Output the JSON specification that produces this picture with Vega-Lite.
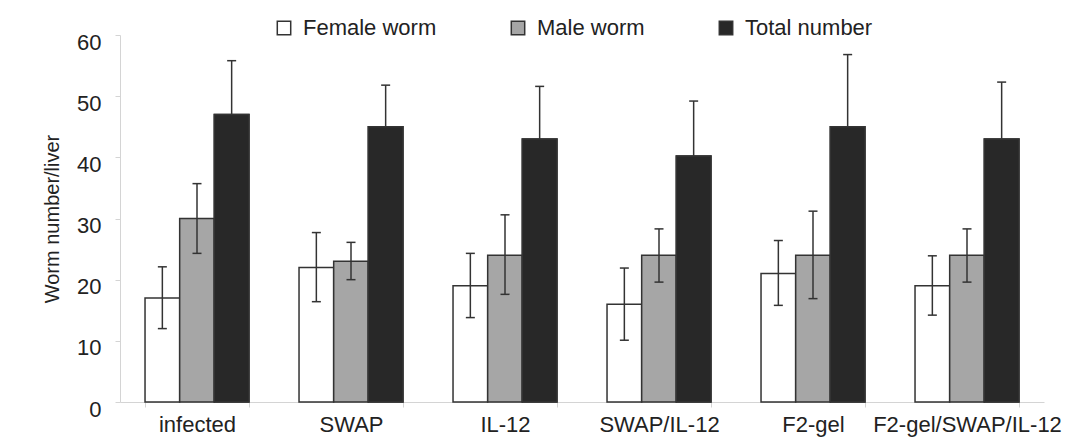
{
  "$schema": "https://vega.github.io/schema/vega-lite/v6.json",
  "width": 924,
  "height": 367,
  "autosize": {"type": "none"},
  "padding": {"left": 120, "top": 35, "right": 42, "bottom": 42},
  "background": "#ffffff",
  "config": {
    "view": {"stroke": null},
    "font": "Liberation Sans",
    "axis": {"grid": false, "labelFont": "Liberation Sans", "titleFont": "Liberation Sans", "labelColor": "#222222", "titleColor": "#222222", "domainColor": "#d4d4d4", "tickColor": "#d4d4d4"}
  },
  "data": {
    "values": [
      {"group": "infected", "series": "Female worm", "value": 17, "lo": 12.0, "hi": 22.1},
      {"group": "infected", "series": "Male worm", "value": 30, "lo": 24.3, "hi": 35.7},
      {"group": "infected", "series": "Total number", "value": 47, "lo": 38.4, "hi": 55.8},
      {"group": "SWAP", "series": "Female worm", "value": 22, "lo": 16.4, "hi": 27.7},
      {"group": "SWAP", "series": "Male worm", "value": 23, "lo": 20.0, "hi": 26.1},
      {"group": "SWAP", "series": "Total number", "value": 45, "lo": 38.2, "hi": 51.8},
      {"group": "IL-12", "series": "Female worm", "value": 19, "lo": 13.8, "hi": 24.3},
      {"group": "IL-12", "series": "Male worm", "value": 24, "lo": 17.6, "hi": 30.6},
      {"group": "IL-12", "series": "Total number", "value": 43, "lo": 34.6, "hi": 51.6},
      {"group": "SWAP/IL-12", "series": "Female worm", "value": 16, "lo": 10.1, "hi": 21.9},
      {"group": "SWAP/IL-12", "series": "Male worm", "value": 24, "lo": 19.6, "hi": 28.3},
      {"group": "SWAP/IL-12", "series": "Total number", "value": 40.2, "lo": 31.2, "hi": 49.2},
      {"group": "F2-gel", "series": "Female worm", "value": 21, "lo": 15.8, "hi": 26.4},
      {"group": "F2-gel", "series": "Male worm", "value": 24, "lo": 16.9, "hi": 31.2},
      {"group": "F2-gel", "series": "Total number", "value": 45, "lo": 33.2, "hi": 56.8},
      {"group": "F2-gel/SWAP/IL-12", "series": "Female worm", "value": 19, "lo": 14.2, "hi": 23.9},
      {"group": "F2-gel/SWAP/IL-12", "series": "Male worm", "value": 24, "lo": 19.6, "hi": 28.3},
      {"group": "F2-gel/SWAP/IL-12", "series": "Total number", "value": 43, "lo": 33.7, "hi": 52.3}
    ]
  },
  "encoding": {
    "x": {
      "field": "group", "type": "nominal", "sort": null,
      "scale": {"paddingInner": 0.325, "paddingOuter": 0.1625},
      "axis": {"title": null, "labelAngle": 0, "labelFontSize": 22, "labelPadding": 7, "tickSize": 5, "tickBand": "extent", "labelFlush": false, "labelLimit": 400, "labelOverlap": false}
    },
    "xOffset": {"field": "series", "type": "nominal", "sort": ["Female worm", "Male worm", "Total number"], "scale": {"paddingInner": 0, "paddingOuter": 0}}
  },
  "layer": [
    {
      "mark": {"type": "bar", "stroke": "#333333", "strokeWidth": 1.5},
      "encoding": {
        "y": {
          "field": "value", "type": "quantitative",
          "scale": {"domain": [0, 60], "nice": false},
          "axis": {"title": "Worm number/liver", "titleFontSize": 20, "titleFontWeight": "normal", "titlePadding": 14, "labelFontSize": 22, "values": [0, 10, 20, 30, 40, 50, 60], "tickSize": 5, "labelPadding": 14, "labelOffset": 7, "labelBound": false, "labelOverlap": false}
        },
        "color": {
          "field": "series", "type": "nominal",
          "scale": {"domain": ["Female worm", "Male worm", "Total number"], "range": ["#ffffff", "#a6a6a6", "#282828"]},
          "legend": {
            "title": null, "orient": "none", "direction": "horizontal",
            "legendX": 153, "legendY": -18,
            "symbolType": "square", "symbolSize": 180, "symbolStrokeColor": "#333333", "symbolStrokeWidth": 1.5,
            "symbolOpacity": 1,
            "labelFontSize": 22, "labelColor": "#222222", "labelFont": "Liberation Sans", "labelOffset": 8, "columnPadding": 70, "labelLimit": 300
          }
        }
      }
    },
    {
      "mark": {"type": "rule", "color": "#333333", "strokeWidth": 1.5},
      "encoding": {
        "y": {"field": "lo", "type": "quantitative"},
        "y2": {"field": "hi"}
      }
    },
    {
      "mark": {"type": "tick", "color": "#333333", "thickness": 1.5, "size": 9, "opacity": 1},
      "encoding": {
        "y": {"field": "lo", "type": "quantitative"}
      }
    },
    {
      "mark": {"type": "tick", "color": "#333333", "thickness": 1.5, "size": 9, "opacity": 1},
      "encoding": {
        "y": {"field": "hi", "type": "quantitative"}
      }
    },
    {
      "transform": [{"filter": "datum.series === 'Total number'"}],
      "mark": {"type": "bar", "stroke": "#333333", "strokeWidth": 1.5, "fill": "#282828"},
      "encoding": {
        "y": {"field": "value", "type": "quantitative"}
      }
    }
  ]
}
